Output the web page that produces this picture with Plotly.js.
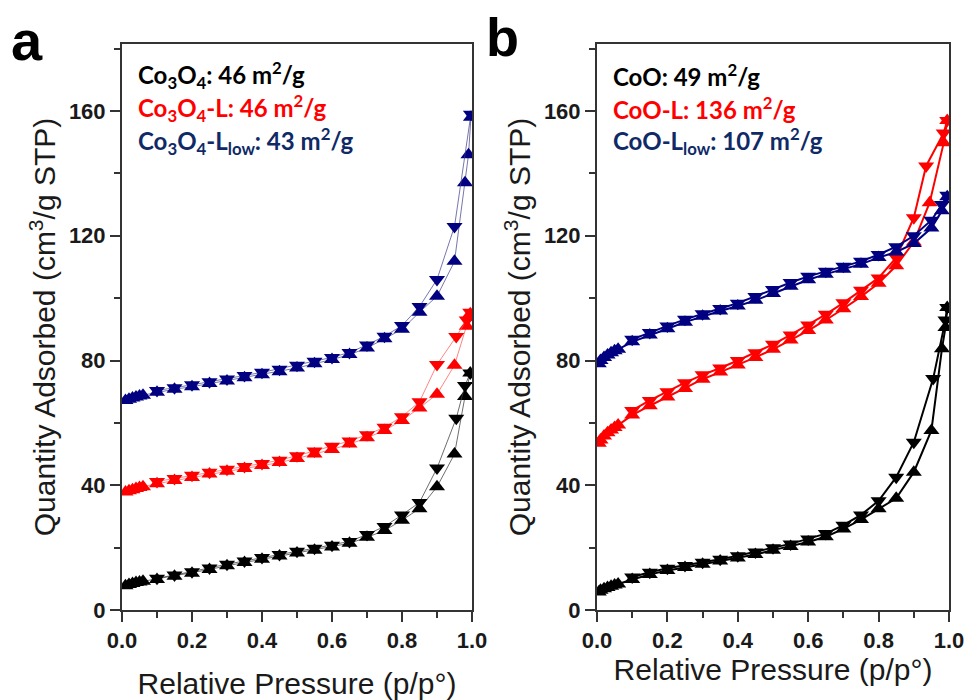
<!DOCTYPE html>
<html><head><meta charset="utf-8">
<script src="https://cdn.plot.ly/plotly-3.0.1.min.js"></script>
<style>html,body{margin:0;padding:0;background:#fff}#chart{width:968px;height:700px}</style>
</head><body><div id="chart"></div>
<script>
// ---------- Panel a : Co3O4 family ----------
const aBlackPAds = [0.01,0.02,0.03,0.04,0.05,0.06,0.1,0.15,0.2,0.25,0.3,0.35,0.4,0.45,0.5,0.55,0.6,0.65,0.7,0.75,0.8,0.85,0.9,0.95,0.98,0.995];
const aBlackQAds = [7.8,8.2,8.5,8.8,9.0,9.2,9.8,10.8,11.8,13.0,14.2,15.2,16.3,17.3,18.3,19.2,20.2,21.4,23.3,25.5,28.8,32.5,39.5,50.0,68.5,76];
const aBlackPDes = [0.995,0.98,0.955,0.9,0.85,0.8,0.75,0.7,0.65,0.6,0.55,0.5,0.45,0.4,0.35,0.3,0.25,0.2,0.15,0.1];
const aBlackQDes = [76,72,61.5,45.5,34.5,30.5,26.8,24.2,22,20.8,19.8,18.8,17.8,16.8,15.7,14.7,13.5,12.3,11.2,10.2];

const aRedPAds = [0.01,0.02,0.03,0.04,0.05,0.06,0.1,0.15,0.2,0.25,0.3,0.35,0.4,0.45,0.5,0.55,0.6,0.65,0.7,0.75,0.8,0.85,0.9,0.95,0.985,0.995];
const aRedQAds = [37.8,38.2,38.6,39.0,39.3,39.5,40.5,41.5,42.5,43.6,44.5,45.4,46.3,47.3,48.6,50.0,51.5,53.2,55.2,57.6,60.8,64.8,69.2,78.5,91,95];
const aRedPDes = [0.995,0.985,0.955,0.9,0.85,0.8,0.75,0.7,0.65,0.6,0.55,0.5,0.45,0.4,0.35,0.3,0.25,0.2,0.15,0.1];
const aRedQDes = [95.5,93,87.7,78.7,66.8,62,58.6,56.2,54.2,52.5,51,49.5,48,47,46,45.1,44.2,43.2,42.2,41.2];

const aBluePAds = [0.01,0.02,0.03,0.04,0.05,0.06,0.1,0.15,0.2,0.25,0.3,0.35,0.4,0.45,0.5,0.55,0.6,0.65,0.7,0.75,0.8,0.85,0.9,0.95,0.98,0.99,0.997];
const aBlueQAds = [67.2,67.6,68,68.3,68.6,68.9,69.8,70.8,71.6,72.6,73.4,74.5,75.4,76.4,77.6,79,80.3,81.9,84,87,90,95.5,100.6,111.8,137,146,158];
const aBluePDes = [0.997,0.95,0.9,0.85,0.8,0.75,0.7,0.65,0.6,0.55,0.5,0.45,0.4,0.35,0.3,0.25,0.2,0.15,0.1];
const aBlueQDes = [159,123,106,97.3,91.2,87.8,85,82.6,81,79.8,78.5,77.2,76.2,75.2,74.1,73.2,72.2,71.3,70.4];

// ---------- Panel b : CoO family ----------
const bBlackPAds = [0.005,0.01,0.02,0.03,0.04,0.05,0.06,0.1,0.15,0.2,0.25,0.3,0.35,0.4,0.45,0.5,0.55,0.6,0.65,0.7,0.75,0.8,0.85,0.9,0.95,0.98,0.99,0.995];
const bBlackQAds = [5.8,6.3,6.8,7.2,7.6,8,8.3,9.8,11.4,12.7,13.6,14.7,15.7,16.7,17.8,19.2,20.4,21.8,23.5,26,29,32.5,35.8,44.2,57.6,83.8,90.6,97];
const bBlackPDes = [0.995,0.99,0.955,0.9,0.85,0.8,0.75,0.7,0.65,0.6,0.55,0.5,0.45,0.4,0.35,0.3,0.25,0.2,0.15,0.1];
const bBlackQDes = [97,93,74.2,53.8,42.6,35,30.5,27.2,24.5,22.8,21.2,20,18.6,17.4,16.3,15.3,14.3,13.4,12.1,10.6];

const bRedPAds = [0.005,0.01,0.02,0.03,0.04,0.05,0.06,0.1,0.15,0.2,0.25,0.3,0.35,0.4,0.45,0.5,0.55,0.6,0.65,0.7,0.75,0.8,0.85,0.9,0.945,0.985,0.995];
const bRedQAds = [53.5,54.5,55.8,56.8,57.7,58.5,59.3,62.5,65.5,68.3,71,74,76.3,78.6,81,83.6,86.6,89.6,93,96.6,100.5,104.8,110.4,118,130.6,149.8,157];
const bRedPDes = [0.995,0.985,0.935,0.9,0.85,0.8,0.75,0.7,0.65,0.6,0.55,0.5,0.45,0.4,0.35,0.3,0.25,0.2,0.15,0.1];
const bRedQDes = [157,153,142.4,125.8,113,106.5,102.5,98.5,94.8,91.4,88.2,85.2,82.5,80,77.6,75.4,72.9,70,67.2,64];

const bBluePAds = [0.005,0.01,0.02,0.03,0.04,0.05,0.06,0.1,0.15,0.2,0.25,0.3,0.35,0.4,0.45,0.5,0.55,0.6,0.65,0.7,0.75,0.8,0.85,0.9,0.95,0.98,0.995];
const bBlueQAds = [79,80,81,81.8,82.5,83.1,83.6,86,88.2,90.2,92.3,94.2,95.9,97.5,99.3,101.5,103.8,105.9,107.7,109.3,110.9,113,114.8,117.5,122.5,128,132.5];
const bBluePDes = [0.995,0.98,0.95,0.9,0.85,0.8,0.75,0.7,0.65,0.6,0.55,0.5,0.45,0.4,0.35,0.3,0.25,0.2,0.15,0.1];
const bBlueQDes = [133,130,125,120,116.5,114,111.8,110.2,108.6,107,105,102.8,100.5,98.4,96.7,95,93.2,91.1,89,86.8];

const labelsA = ['Co<sub>3</sub>O<sub>4</sub>: 46 m<sup>2</sup>/g','Co<sub>3</sub>O<sub>4</sub>-L: 46 m<sup>2</sup>/g','Co<sub>3</sub>O<sub>4</sub>-L<sub>low</sub>: 43 m<sup>2</sup>/g'];
const labelsB = ['CoO: 49 m<sup>2</sup>/g','CoO-L: 136 m<sup>2</sup>/g','CoO-L<sub>low</sub>: 107 m<sup>2</sup>/g'];
const xTitle = 'Relative Pressure (p/p°)';
const yTitle = 'Quantity Adsorbed (cm<sup>3</sup>/g STP)';

const markerCol = ['#000000','#ff0000','#000080'];
const lineColA = ['rgba(60,60,60,0.75)','rgba(255,80,80,0.7)','rgba(60,60,140,0.7)'];
const textCol = ['#000000','#ff0000','#0f2a66'];

function pair(px, qa, pd, qd, ci, xa, ya, lw, lc) {
  const base = {type:'scatter', mode:'lines+markers', xaxis:xa, yaxis:ya, showlegend:false, hoverinfo:'x+y'};
  return [
    Object.assign({}, base, {x:px, y:qa, line:{color:lc, width:lw},
      marker:{symbol:'triangle-up', size:14, color:markerCol[ci]}}),
    Object.assign({}, base, {x:pd, y:qd, line:{color:lc, width:lw},
      marker:{symbol:'triangle-down', size:14, color:markerCol[ci]}})
  ];
}

const data = [].concat(
  pair(aBlackPAds,aBlackQAds,aBlackPDes,aBlackQDes,0,'x','y',1,lineColA[0]),
  pair(aRedPAds,aRedQAds,aRedPDes,aRedQDes,1,'x','y',1,lineColA[1]),
  pair(aBluePAds,aBlueQAds,aBluePDes,aBlueQDes,2,'x','y',1,lineColA[2]),
  pair(bBlackPAds,bBlackQAds,bBlackPDes,bBlackQDes,0,'x2','y2',2,markerCol[0]),
  pair(bRedPAds,bRedQAds,bRedPDes,bRedQDes,1,'x2','y2',2,markerCol[1]),
  pair(bBluePAds,bBlueQAds,bBluePDes,bBlueQDes,2,'x2','y2',2,markerCol[2])
);

const W = 968, H = 700;
const tickFont = {family:'Liberation Sans, Arial, sans-serif', size:22, weight:'bold', color:'#1a1a1a'};
const titleFont = {family:'Liberation Sans, Arial, sans-serif', size:30, color:'#1a1a1a'};
function xax(dom, standoff) {
  return {domain:dom, range:[0,1], showline:true, mirror:true, linecolor:'#333', linewidth:2,
    ticks:'outside', ticklen:10, tickwidth:2, tickcolor:'#333', dtick:0.2, tickformat:'.1f',
    minor:{ticks:'outside', ticklen:6, tickwidth:2, tickcolor:'#333', dtick:0.1},
    showgrid:false, zeroline:false, tickfont:tickFont,
    title:{text:xTitle, font:titleFont, standoff:standoff}};
}
function yax(dom, anchor) {
  return {domain:dom, range:[0,181.5], anchor:anchor, showline:true, mirror:true, linecolor:'#333', linewidth:2,
    ticks:'outside', ticklen:10, tickwidth:2, tickcolor:'#333', dtick:40,
    minor:{ticks:'outside', ticklen:6, tickwidth:2, tickcolor:'#333', dtick:20},
    showgrid:false, zeroline:false, tickfont:tickFont,
    title:{text:yTitle, font:titleFont, standoff:4}};
}
const yDom = [1-610/H, 1-44/H];
const legFont = (c)=>({family:'Lato, Open Sans, sans-serif', size:24, weight:'bold', color:c});
const ann = [];
labelsA.forEach((t,i)=>ann.push({text:t, xref:'paper', yref:'paper', x:136/W, y:1-[75,108,141][i]/H, xanchor:'left', yanchor:'middle', showarrow:false, font:legFont(textCol[i])}));
labelsB.forEach((t,i)=>ann.push({text:t, xref:'paper', yref:'paper', x:611/W, y:1-[75,108,141][i]/H, xanchor:'left', yanchor:'middle', showarrow:false, font:legFont(textCol[i])}));
ann.push({text:'a', xref:'paper', yref:'paper', x:27/W, y:1-40/H, xanchor:'center', yanchor:'middle', showarrow:false, font:{family:'Liberation Sans, Arial', size:56, weight:'bold', color:'#000'}});
ann.push({text:'b', xref:'paper', yref:'paper', x:503/W, y:1-37/H, xanchor:'center', yanchor:'middle', showarrow:false, font:{family:'Liberation Sans, Arial', size:54, weight:'bold', color:'#000'}});

const layout = {
  width:W, height:H, margin:{l:0,r:0,t:0,b:0}, paper_bgcolor:'#fff', plot_bgcolor:'#fff',
  xaxis: Object.assign(xax([122/W, 472/W], 24), {anchor:'y'}),
  yaxis: yax(yDom, 'x'),
  xaxis2: Object.assign(xax([597/W, 949/W], 3), {anchor:'y2'}),
  yaxis2: yax(yDom, 'x2'),
  annotations: ann
};
Plotly.newPlot('chart', data, layout, {displayModeBar:false, staticPlot:true});
</script></body></html>
